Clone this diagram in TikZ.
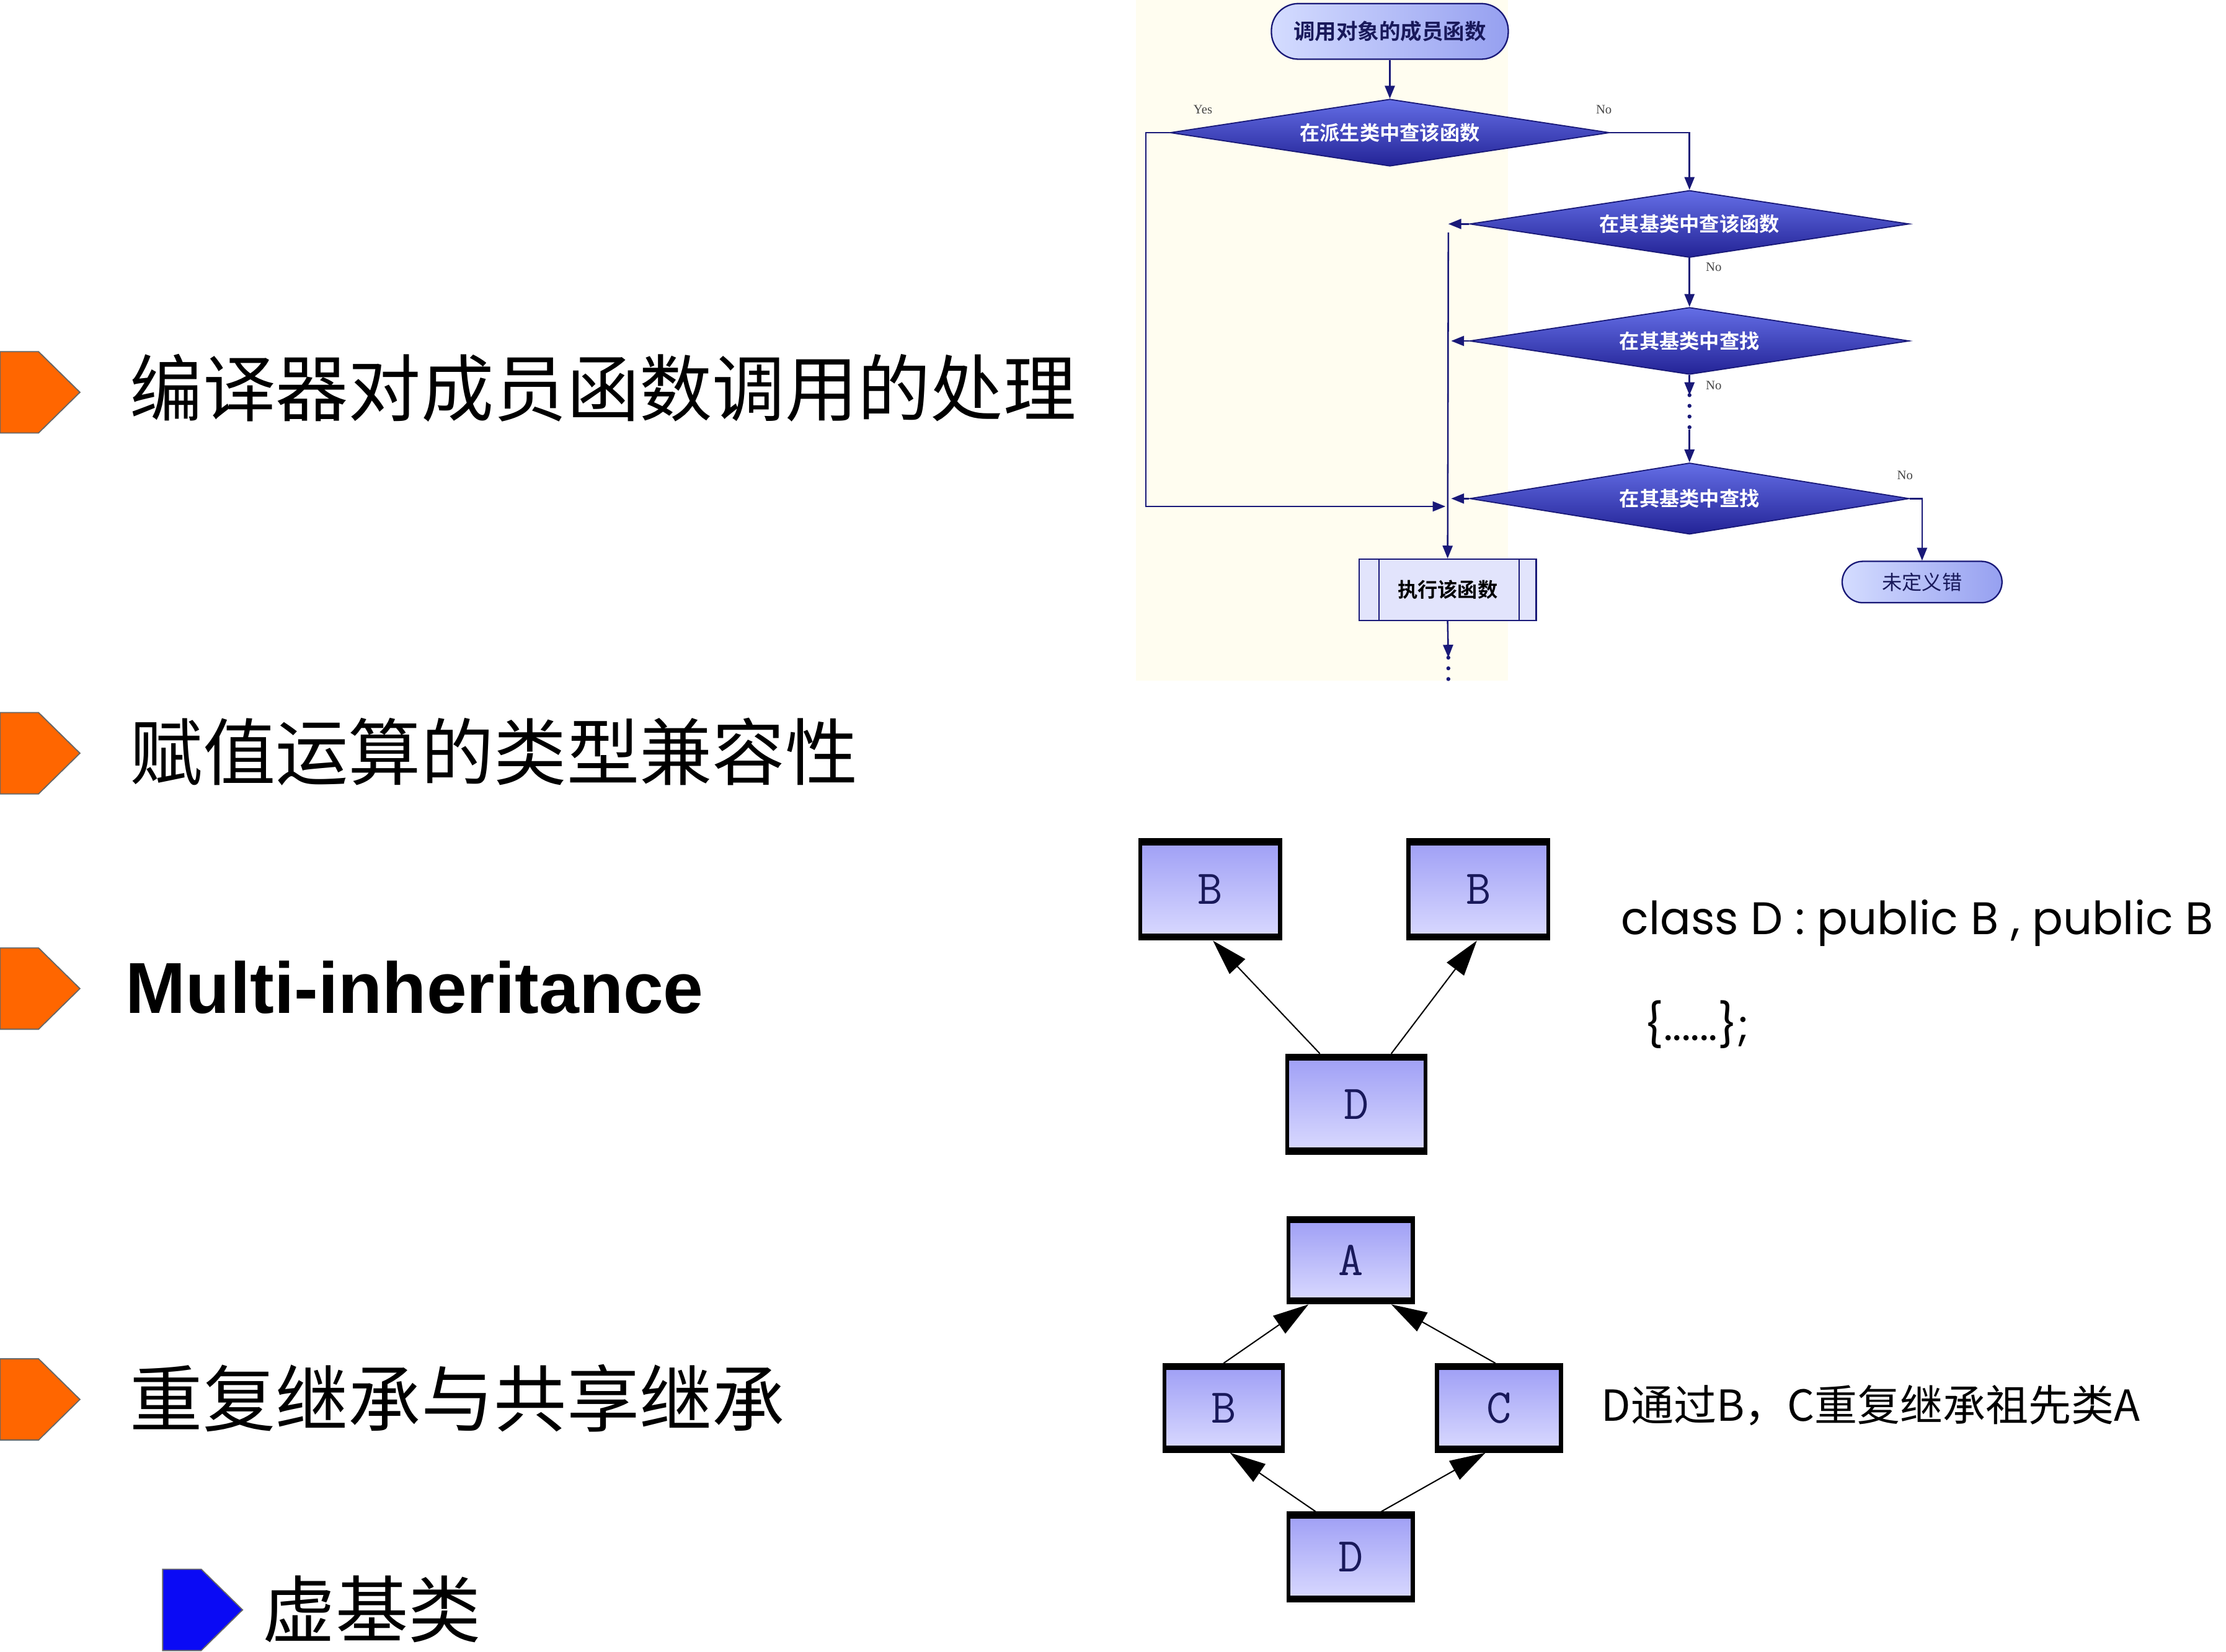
\documentclass[tikz,border=0pt]{standalone}
\usepackage{fontspec}
\setmainfont{Liberation Sans}
\newfontfamily\cjk{Noto Sans CJK SC}[BoldFont={Noto Sans CJK SC Bold}]
\newfontfamily\gothic{Poppins}
\newfontfamily\serifsm{Liberation Serif}
\usetikzlibrary{arrows.meta,shapes.geometric,calc}
\definecolor{navy}{RGB}{25,25,120}
\definecolor{navytext}{RGB}{25,25,90}
\definecolor{diaT}{RGB}{100,110,230}
\definecolor{diaB}{RGB}{35,35,150}
\definecolor{termL}{RGB}{212,220,255}
\definecolor{termR}{RGB}{150,160,240}
\definecolor{execfill}{RGB}{226,228,252}
\definecolor{clsT}{RGB}{158,158,245}
\definecolor{clsB}{RGB}{218,218,255}
\definecolor{bulorange}{RGB}{255,102,0}
\definecolor{bulblue}{RGB}{10,10,245}
\definecolor{cream}{RGB}{255,253,240}
\definecolor{labgray}{RGB}{70,70,70}
\tikzset{
  bulletmark/.pic={\path[pic actions] (0,-28.5) -- (27,-28.5) -- (56,0) -- (27,28.5) -- (0,28.5) -- cycle;}
}
\begin{document}
\begin{tikzpicture}[x=1pt,y=-1pt,
  fcline/.style={draw=navy, line width=1.1pt},
  fcarrow/.style={fcline, -{Triangle[length=9pt,width=7pt]}},
  dotline/.style={draw=navy, line width=2.8pt, line cap=round, dash pattern=on 0pt off 7.5pt},
  term/.style={draw=navy, line width=1pt, rounded corners=19pt, left color=termL, right color=termR,
    minimum width=166pt, minimum height=39pt, inner sep=0pt, text=navytext},
  dia/.style={diamond, draw=navy, line width=0.8pt, top color=diaT, bottom color=diaB, aspect=6.7,
    inner sep=0pt, minimum width=308pt, minimum height=47pt, text=white,
    font=\cjk\bfseries\fontsize{14}{14}\selectfont},
  execbox/.style={draw=navy, line width=1pt, fill=execfill, minimum width=124pt, minimum height=43pt,
    inner sep=0pt, font=\cjk\bfseries\fontsize{14}{14}\selectfont, text=black,
    path picture={\draw[navy, line width=1pt]
      ([xshift=14pt]path picture bounding box.north west) -- ([xshift=14pt]path picture bounding box.south west)
      ([xshift=-12pt]path picture bounding box.north east) -- ([xshift=-12pt]path picture bounding box.south east);}},
  lab/.style={font=\serifsm\fontsize{9}{9}\selectfont, text=labgray, inner sep=0pt},
  bigtxt/.style={anchor=west, inner sep=0pt, font=\cjk\fontsize{51}{51}\selectfont, text=black},
  cbox/.style={draw=black, line width=2.8pt, top color=clsT, bottom color=clsB, inner sep=0pt,
    font=\ttfamily\fontsize{34}{34}\selectfont, text=navytext,
    path picture={\fill[black] (path picture bounding box.north west) rectangle ([yshift=-3.5pt]path picture bounding box.north east);
      \fill[black] (path picture bounding box.south west) rectangle ([yshift=3.5pt]path picture bounding box.south east);}},
  clsarrow/.style={draw=black, line width=0.9pt, -{Triangle[length=25pt,width=15pt]}}
]
\fill[white] (0,0) rectangle (1560,1158);
\useasboundingbox (0,0) rectangle (1560,1158);
\fill[cream] (796,0) rectangle (1057,477);

% ---------- left bullets and texts ----------
\pic[fill=bulorange, draw=black!60, line width=0.8pt] at (0,275) {bulletmark};
\pic[fill=bulorange, draw=black!60, line width=0.8pt] at (0,528) {bulletmark};
\pic[fill=bulorange, draw=black!60, line width=0.8pt] at (0,693) {bulletmark};
\pic[fill=bulorange, draw=black!60, line width=0.8pt] at (0,981) {bulletmark};
\pic[fill=bulblue, draw=black!60, line width=0.8pt] at (114,1128.5) {bulletmark};

\node[bigtxt] (t1) at (91,272) {编译器对成员函数调用的处理};
\node[bigtxt] (t2) at (91,527) {赋值运算的类型兼容性};
\node[anchor=west, inner sep=0pt, font=\bfseries\fontsize{50.6}{50.6}\selectfont] (t3) at (88,692) {Multi-inheritance};
\node[bigtxt] (t4) at (91,980) {重复继承与共享继承};
\node[bigtxt] (t5) at (184,1128) {虚基类};

% ---------- flowchart ----------
\node[term, font=\cjk\bfseries\fontsize{15}{15}\selectfont] (start) at (974,22) {调用对象的成员函数};
\node[dia] (d1) at (974,93) {在派生类中查该函数};
\node[dia] (d2) at (1184,157) {在其基类中查该函数};
\node[dia] (d3) at (1184,239) {在其基类中查找};
\node[dia, minimum height=50pt] (d4) at (1184,349.5) {在其基类中查找};
\node[execbox] (exec) at (1014.5,413.5) {执行该函数};
\node[term, rounded corners=14.5pt, minimum width=112pt, minimum height=29pt,
  font=\cjk\fontsize{14}{14}\selectfont] (err) at (1347,408) {未定义错};

\coordinate (yescorner) at (803,355);
\coordinate (join) at (1013,355);
\coordinate (l2) at (1015,157);
\coordinate (l2b) at (1015,163);
\coordinate (l3) at (1017,239);
\coordinate (l4) at (1017,349.5);
\coordinate (m1) at (1184,277);
\coordinate (m2) at (1184,301);
\coordinate (e1) at (1015,461);
\coordinate (e2) at (1015,483);

\draw[fcarrow] (start) -- (d1);
\draw[fcarrow] (d1.west) -| (yescorner) -- (join);
\draw[fcarrow] (d1.east) -| (d2.north);
\draw[fcarrow] (d2.west) -- (l2);
\draw[fcarrow] (l2b) -- (exec.north);
\draw[fcarrow] (d2.south) -- (d3.north);
\draw[fcarrow] (d3.west) -- (l3);
\draw[fcarrow] (d3.south) -- (m1);
\draw[dotline] (m1) -- (m2);
\draw[fcarrow] (m2) -- (d4.north);
\draw[fcarrow] (d4.west) -- (l4);
\draw[fcarrow] (d4.east) -| (err.north);
\draw[fcarrow] (exec.south) -- (e1);
\draw[dotline] (e1) -- (e2);

\node[lab] (yes) at (843,77) {Yes};
\node[lab] (no1) at (1124,77) {No};
\node[lab] (no2) at (1201,187) {No};
\node[lab] (no3) at (1201,270) {No};
\node[lab] (no4) at (1335,333) {No};

% ---------- multi-inheritance ----------
\node[cbox, minimum width=98pt, minimum height=69pt] (b1) at (848,623.5) {B};
\node[cbox, minimum width=98pt, minimum height=69pt] (b2) at (1036,623.5) {B};
\node[cbox, minimum width=97pt, minimum height=68pt] (dd) at (950.5,774) {D};
\draw[clsarrow] ($(dd.north)+(-25.5,0)$) -- ($(b1.south)+(2,0)$);
\draw[clsarrow] ($(dd.north)+(24.5,0)$) -- ($(b2.south)+(-1,0)$);

\node[anchor=west, inner sep=0pt, font=\gothic\fontsize{32}{32}\selectfont] (cls) at (1136,647) {class D : public B , public B};
\node[anchor=west, inner sep=0pt, font=\gothic\fontsize{30}{30}\selectfont] (body) at (1152,718) {\{......\};};

% ---------- repeated inheritance ----------
\node[cbox, minimum width=87pt, minimum height=59pt] (ra) at (946.5,883.5) {A};
\node[cbox, minimum width=83pt, minimum height=60pt] (rb) at (857.5,987) {B};
\node[cbox, minimum width=87pt, minimum height=60pt] (rc) at (1050.5,987) {C};
\node[cbox, minimum width=87pt, minimum height=61pt] (rd) at (946.5,1091.5) {D};
\draw[clsarrow] (rb.north) -- ($(ra.south)+(-29.5,0)$);
\draw[clsarrow] ($(rc.north)+(-2.5,0)$) -- ($(ra.south)+(28.5,0)$);
\draw[clsarrow] ($(rd.north)+(-24.5,0)$) -- ($(rb.south)+(4.5,0)$);
\draw[clsarrow] ($(rd.north)+(21.5,0)$) -- ($(rc.south)+(-9.5,0)$);

\node[anchor=west, inner sep=0pt, font=\cjk\fontsize{30}{30}\selectfont] (rtxt) at (1122,985) {D通过B，C重复继承祖先类A};
\end{tikzpicture}
\end{document}
